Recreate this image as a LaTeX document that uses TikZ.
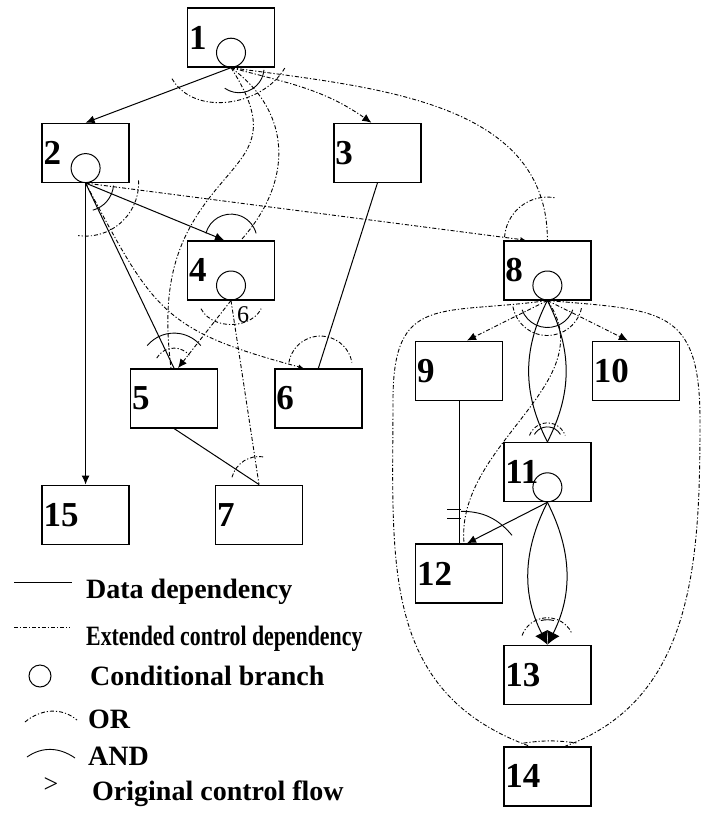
\documentclass[tikz,border=0pt]{standalone}
\usepackage{fontspec}
\setmainfont{Liberation Serif}
\usepackage{graphicx}
\usetikzlibrary{positioning,arrows.meta,calc}
\newcommand{\numfont}{\fontsize{35}{35}\selectfont\bfseries}
\newcommand{\legfont}{\fontsize{28}{28}\selectfont\bfseries}

\begin{document}
\begin{tikzpicture}[
  x=1pt, y=1pt,
  stmt/.style={draw, line width=1.4pt, minimum width=87pt, minimum height=59pt,
      text width=84pt, align=left, inner sep=1pt, font=\numfont},
  cond/.style={draw, circle, line width=1pt, minimum size=29pt, inner sep=0pt},
  data/.style={line width=1pt},
  ctrl/.style={line width=0.9pt, dash pattern=on 4pt off 2pt on 1.2pt off 2pt},
  arr/.style={-{Latex[length=9pt,width=8pt]}},
  bigarr/.style={-{Latex[length=13pt,width=14pt]}},
  smallarr/.style={-{Latex[length=5pt,width=5pt]}},
  andarc/.style={line width=0.9pt},
  orarc/.style={ctrl},
  legend/.style={anchor=base west, inner sep=0pt, font=\legfont},
]
\useasboundingbox (0,0) rectangle (703,-822);

\node[stmt] (b1) at (231,-37.5) {1};
\node[stmt, below left=55pt and 57pt of b1] (b2) {2};
\node[stmt, below right=55pt and 58pt of b1] (b3) {3};
\node[stmt, below right=57pt and 57pt of b2] (b4) {4};
\node[stmt, below right=185pt and 0pt of b2] (b5) {5};
\node[stmt, right=56pt of b5] (b6) {6};
\node[stmt, below left=56pt and 0pt of b5] (b15) {15};
\node[stmt, right=85pt of b15] (b7) {7};
\node[stmt, right=228pt of b4] (b8) {8};
\node[stmt, below left=40pt and 0pt of b8] (b9) {9};
\node[stmt, below right=40pt and 0pt of b8] (b10) {10};
\node[stmt, below right=41pt and 0pt of b9] (b11) {11};
\node[stmt, below left=41pt and 0pt of b11] (b12) {12};
\node[stmt, below right=41pt and 0pt of b12] (b13) {13};
\node[stmt, below=41pt of b13] (b14) {14};
\foreach \n in {1,2,4,8,11}
  \node[cond, anchor=south] (c\n) at (b\n.south) {};

\draw[data, arr] (b1.south) -- (b2.north);
\draw[data, arr] (b2.south) -- ([xshift=-7pt]b4.north);
\draw[data] (b2.south) -- (b5.north);
\draw[data, arr] (b2.south) -- (b15.north);
\draw[data] (b3.south) -- (b6.north);
\draw[data] (b5.south) -- (b7.north);
\draw[data] (b9.south) -- (b12.north);
\draw[data, arr] (b11.south) -- ([xshift=8pt]b12.north);
\draw[data] (b8.south) to[bend right=27] (b11.north);
\draw[data] (b8.south) to[bend left=27] (b11.north);
\draw[data, bigarr] (b11.south) to[bend right=27] (b13.north);
\draw[data, bigarr] (b11.south) to[bend left=27] (b13.north);

\coordinate (w15) at (210,-197);
\coordinate (wl) at (393,-400);
\coordinate (wr) at (700,-420);
\draw[ctrl, arr] (b1.south) to[out=-15,in=145] ([xshift=-6pt]b3.north);
\draw[ctrl] (b1.south) to[out=-8,in=90] (b8.north);
\draw[ctrl] (b1.south) .. controls +(62pt,-45pt) and +(52pt,58pt) .. ([xshift=10pt]b4.north);
\draw[ctrl] (b1.south) .. controls +(45pt,-70pt) and +(35pt,45pt) .. (w15)
   .. controls +(-35pt,-45pt) and +(-10pt,80pt) .. ([xshift=-3pt]b5.north);
\draw[ctrl, smallarr] (b2.south) -- ([xshift=-22pt]b8.north);
\draw[ctrl, smallarr] (b2.south) to[out=-62,in=165,looseness=1.3] ([xshift=-15pt]b6.north);
\draw[ctrl, arr] (b4.south) -- ([xshift=4pt]b5.north);
\draw[ctrl] (b4.south) -- (b7.north);
\draw[ctrl, arr] (b8.south) -- ([xshift=8pt]b9.north);
\draw[ctrl, arr] (b8.south) -- ([xshift=-8pt]b10.north);
\draw[ctrl] (b8.south) to[out=-55,in=95] ([xshift=5pt]b12.north);
\draw[ctrl] (b8.south) to[out=188,in=90,looseness=1.5] (wl)
   to[out=-90,in=160,looseness=1.1] ([xshift=-18pt]b14.north);
\draw[ctrl] (b8.south) to[out=-5,in=90,looseness=1.5] (wr)
   to[out=-90,in=20] ([xshift=18pt]b14.north);

\draw[orarc] ([shift={(-59pt,-11pt)}]b1.south) to[out=-60,in=-120] ([shift={(54pt,0pt)}]b1.south);
\draw[andarc] ([shift={(-6.3pt,-20.5pt)}]b1.south) arc[start angle=235,end angle=355,radius=25pt];
\draw[andarc] ([shift={(-5:28pt)}]b2.south) arc[start angle=-5,end angle=-75,radius=28pt];
\draw[orarc] ([shift={(3:53pt)}]b2.south) arc[start angle=3,end angle=-98,radius=53pt];
\draw[andarc] ([shift={(165:26pt)}]b4.north) arc[start angle=165,end angle=15,radius=26pt];
\draw[orarc] ([shift={(-30pt,-8.2pt)}]b4.south) arc[start angle=200,end angle=340,x radius=32pt,y radius=24pt];
\node[font=\fontsize{24}{24}\selectfont, inner sep=0pt] (six) at ([shift={(12pt,-14pt)}]b4.south) {6};
\draw[andarc] ([shift={(140:35pt)}]b5.north) arc[start angle=140,end angle=40,radius=35pt];
\draw[orarc] ([shift={(150:20pt)}]b5.north) arc[start angle=150,end angle=40,radius=20pt];
\draw[orarc] ([shift={(-29.5pt,5.6pt)}]b6.north) arc[start angle=170,end angle=10,radius=32pt];
\draw[orarc] ([shift={(165:28pt)}]b7.north) arc[start angle=165,end angle=80,radius=28pt];
\draw[orarc] ([shift={(176:43pt)}]b8.north) arc[start angle=176,end angle=78,radius=43pt];
\draw[orarc] ([shift={(190:35pt)}]b8.south) arc[start angle=190,end angle=350,radius=35pt];
\draw[andarc] ([shift={(200:27pt)}]b8.south) arc[start angle=200,end angle=340,radius=27pt];
\draw[andarc] ([shift={(150:15pt)}]b11.north) arc[start angle=150,end angle=30,radius=15pt];
\draw[orarc] ([shift={(160:19pt)}]b11.north) arc[start angle=160,end angle=20,radius=19pt];
\draw[andarc] ([shift={(2pt,32pt)}]b12.north) to[out=0,in=130] ([shift={(53pt,8pt)}]b12.north);
\draw[andarc] ([shift={(-12pt,34pt)}]b12.north) -- ++(14pt,0);
\draw[andarc] ([shift={(-12pt,25pt)}]b12.north) -- ++(14pt,0);
\draw[orarc] ([shift={(160:27pt)}]b13.north) arc[start angle=160,end angle=25,radius=27pt];
\draw[andarc] ([shift={(105:25pt)}]b13.north) arc[start angle=105,end angle=75,radius=25pt];
\draw[orarc] ([shift={(-24pt,3pt)}]b14.north) to[bend left=8] ([shift={(30pt,3pt)}]b14.north);

\coordinate (lg1a) at (14,-582);
\coordinate (lg1b) at (72,-582);
\coordinate (lg2a) at (14,-627);
\coordinate (lg2b) at (70,-627);
\draw[data] (lg1a) -- (lg1b);
\draw[ctrl] (lg2a) -- (lg2b);
\node[cond, minimum size=22pt] (lgc) at (40,-676) {};
\draw[orarc] (25,-722) to[out=40,in=140] (77,-720);
\draw[andarc] (27,-757) to[out=35,in=145] (75,-758);
\node[font=\fontsize{26}{26}\selectfont, inner sep=0pt] (lggt) at (51,-785) {>};
\node[legend] (ldata) at (86,-598) {Data dependency};
\node[legend] (lext) at (86,-645) {\scalebox{0.78}[1]{Extended control dependency}};
\node[legend] (lcond) at (90,-685) {Conditional branch};
\node[legend] (lor) at (88,-728) {OR};
\node[legend] (land) at (88,-765) {AND};
\node[legend] (lorig) at (92,-800) {Original control flow};
\end{tikzpicture}
\end{document}
